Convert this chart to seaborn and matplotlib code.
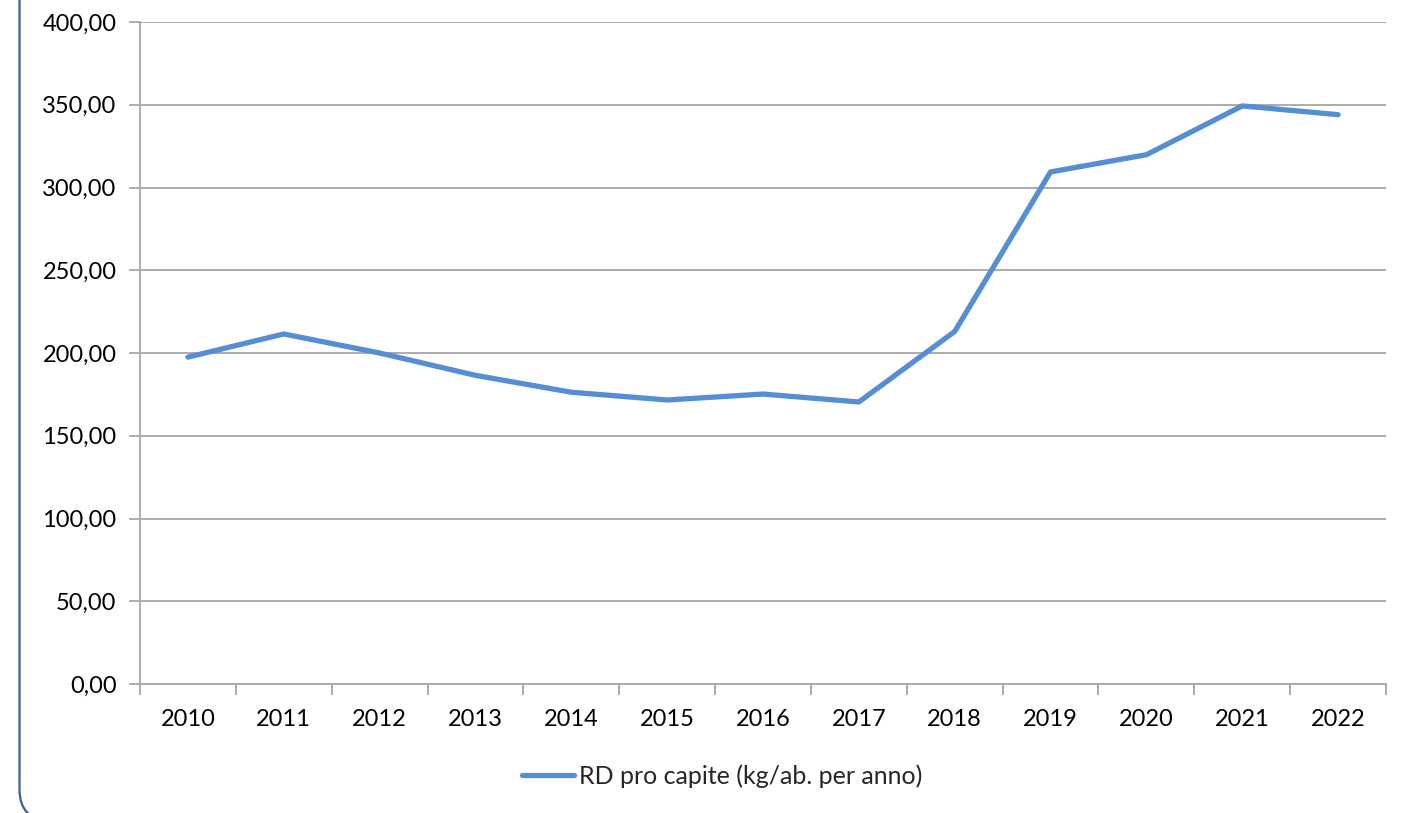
"""RD pro capite line chart."""

import numpy as np
import pandas as pd
import matplotlib.pyplot as plt
import seaborn as sns
from matplotlib.patches import FancyBboxPatch
from matplotlib.transforms import IdentityTransform
from matplotlib.ticker import FixedLocator, FuncFormatter

years = ["2010", "2011", "2012", "2013", "2014", "2015", "2016",
         "2017", "2018", "2019", "2020", "2021", "2022"]
rd_pro_capite = [197.5, 211.5, 200.0, 186.5, 176.3, 171.6, 175.2,
                 170.4, 213.0, 309.4, 319.8, 349.3, 344.0]
series_label = "RD pro capite (kg/ab. per anno)"

sns.set_style("white")
plt.rcParams["font.family"] = ["Lato", "DejaVu Sans"]
fs = 17

df = pd.DataFrame({"pos": np.arange(len(years)), "value": rd_pro_capite})

fig = plt.figure(figsize=(14.04, 8.13), dpi=100)
ax = fig.add_axes([140 / 1404, 1 - 684 / 813, (1386 - 140) / 1404, (684 - 22) / 813])

grid_color = "#a6a6a6"
sns.lineplot(data=df, x="pos", y="value", ax=ax, color="#558ed5",
             linewidth=3.8, solid_capstyle="round", solid_joinstyle="round",
             label=series_label, legend=False)

ax.set_xlim(-0.5, len(years) - 0.5)
ax.set_ylim(0, 400)
ax.set_yticks(np.arange(0, 401, 50))
ax.yaxis.set_major_formatter(FuncFormatter(lambda v, _: f"{v:.2f}".replace(".", ",")))
ax.yaxis.grid(True, color=grid_color, linewidth=1.3)
ax.set_axisbelow(True)

# tick marks between categories, labels at the category centres
ax.xaxis.set_major_locator(FixedLocator(np.arange(-0.5, len(years), 1.0)))
ax.xaxis.set_major_formatter(FuncFormatter(lambda v, _: ""))
ax.xaxis.set_minor_locator(FixedLocator(np.arange(len(years))))
ax.set_xticklabels(years, minor=True)
ax.tick_params(axis="x", which="major", bottom=True, length=8, width=1.3,
               color=grid_color, direction="out")
ax.tick_params(axis="x", which="minor", bottom=True, length=0, pad=18,
               labelsize=fs, labelcolor="#000000")
ax.tick_params(axis="y", left=True, length=8, width=1.3, color=grid_color, direction="out",
               pad=9, labelsize=fs, labelcolor="#000000")

for side in ["top", "right"]:
    ax.spines[side].set_visible(False)
for side in ["left", "bottom"]:
    ax.spines[side].set_color(grid_color)
    ax.spines[side].set_linewidth(1.3)
ax.set_xlabel("")
ax.set_ylabel("")

handles, labels = ax.get_legend_handles_labels()
fig.legend(handles, labels, loc="center", bbox_to_anchor=(722 / 1404, 1 - 776 / 813),
           frameon=False, fontsize=18, handlelength=2.1, handletextpad=0.2)

frame = FancyBboxPatch((19.5, -8), 1500, 1000, boxstyle="round,pad=0,rounding_size=32",
                       transform=IdentityTransform(), facecolor="none",
                       edgecolor="#3b5f98", linewidth=1.6)
fig.patches.append(frame)

fig.savefig("out.png", dpi=100)
plt.close(fig)
